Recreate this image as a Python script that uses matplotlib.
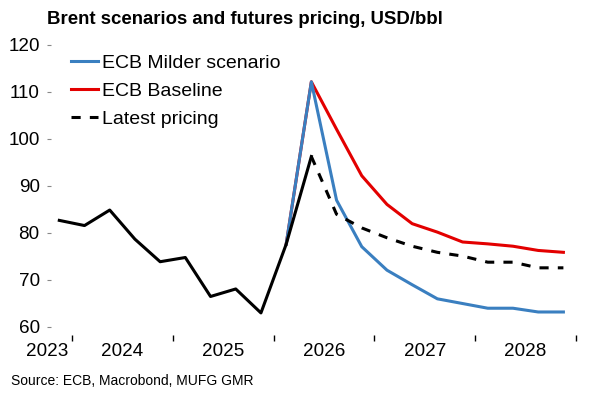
import matplotlib
matplotlib.use("Agg")
import matplotlib.pyplot as plt
import matplotlib.transforms as mtransforms

plt.rcParams['font.family'] = ['Liberation Sans', 'DejaVu Sans']

# Quarterly data, plotted at mid-quarter
hist_q = [2023.875, 2024.125, 2024.375, 2024.625, 2024.875, 2025.125,
          2025.375, 2025.625, 2025.875, 2026.125, 2026.375]
hist_v = [82.6, 81.5, 84.8, 78.6, 73.8, 74.7, 66.4, 68.0, 62.9, 77.5, 96.2]

fut_q = [2026.375, 2026.625, 2026.875, 2027.125, 2027.375, 2027.625,
         2027.875, 2028.125, 2028.375, 2028.625, 2028.875]
latest_v = [96.2, 83.9, 81.0, 78.9, 77.1, 75.8, 75.0, 73.7, 73.7, 72.5, 72.5]

scen_q = [2026.125, 2026.375, 2026.625, 2026.875, 2027.125, 2027.375,
          2027.625, 2027.875, 2028.125, 2028.375, 2028.625, 2028.875]
baseline_v = [77.5, 112.1, 102.0, 92.1, 86.0, 81.9, 80.1, 78.0, 77.6, 77.1, 76.2, 75.8]
milder_v = [77.5, 112.1, 86.9, 77.0, 72.0, 68.9, 65.9, 64.9, 63.9, 63.9, 63.1, 63.1]

year_labels = ['2023', '2024', '2025', '2026', '2027', '2028']
year_label_pos = [2023.75, 2024.5, 2025.5, 2026.5, 2027.5, 2028.5]
year_ticks = [2024, 2025, 2026, 2027, 2028, 2029]
y_ticks = [60, 70, 80, 90, 100, 110, 120]

BLUE = '#3A7FC0'
RED = '#E30000'

fig = plt.figure(figsize=(6, 4), dpi=100)
ax = fig.add_axes([21.5 / 600, 1 - 335 / 400, (576 - 21.5) / 600, (335 - 40) / 400])

lw = 2.2
ax.plot(scen_q, milder_v, color=BLUE, lw=lw, label='ECB Milder scenario', zorder=3)
ax.plot(scen_q, baseline_v, color=RED, lw=lw, label='ECB Baseline', zorder=2)
ax.plot(fut_q, latest_v, color='black', lw=lw, ls=(0, (3, 3)), label='Latest pricing', zorder=4)
ax.plot(hist_q, hist_v, color='black', lw=lw, zorder=4)

ax.set_xlim(2023.5, 2029.0)
ax.set_ylim(58.2, 121)

for s in ['top', 'right', 'bottom', 'left']:
    ax.spines[s].set_visible(False)
ax.spines['left'].set_position(('data', 2023.79))

ax.set_yticks(y_ticks)
ax.set_yticklabels([str(v) for v in y_ticks])
ax.tick_params(axis='y', length=3, width=0.8, color='#888888', pad=5, labelsize=13.6)

ax.set_xticks(year_ticks)
ax.set_xticklabels([])
ax.tick_params(axis='x', length=4, width=1.0, color='black', direction='out')

trans = mtransforms.blended_transform_factory(ax.transData, fig.transFigure)
for lab, pos in zip(year_labels, year_label_pos):
    ax.text(pos, 1 - 352 / 400, lab, transform=trans, ha='center', va='center',
            fontsize=13.6, clip_on=False)

fig.text(47 / 600, 1 - 19 / 400, 'Brent scenarios and futures pricing, USD/bbl',
         fontsize=13.4, fontweight='bold', ha='left', va='center')
fig.text(11 / 600, 1 - 381 / 400, 'Source: ECB, Macrobond, MUFG GMR',
         fontsize=10, ha='left', va='center')

leg = ax.legend(loc='upper left', bbox_to_anchor=(71 / 600, 1 - 54 / 400),
                bbox_transform=fig.transFigure, frameon=False, fontsize=14,
                handlelength=1.37, handletextpad=0.2, labelspacing=0.55,
                borderpad=0, borderaxespad=0)

fig.savefig('out.png', dpi=100)
